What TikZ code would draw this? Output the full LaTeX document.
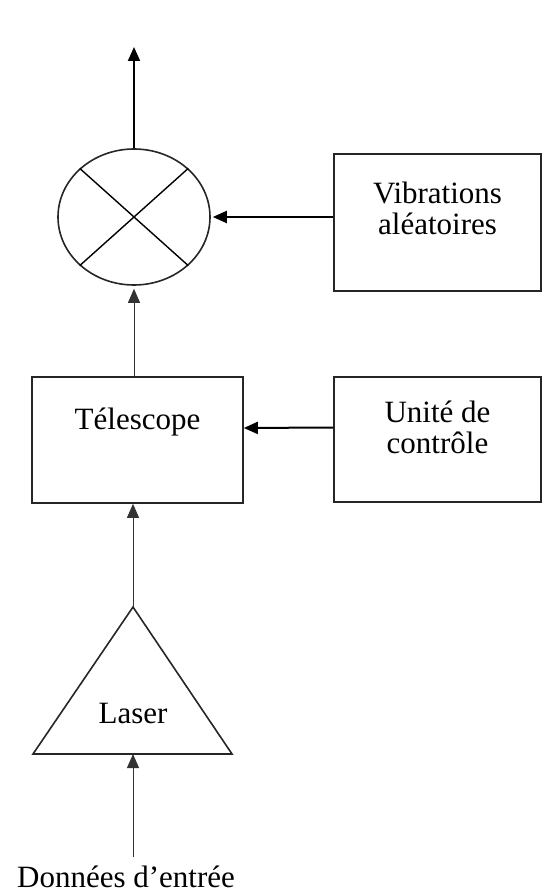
\documentclass[tikz,border=0pt]{standalone}
\usepackage{fontspec}
\setmainfont{Liberation Serif}
\usetikzlibrary{arrows.meta,shapes.geometric}

\begin{document}
\begin{tikzpicture}[
  x=0.5pt, y=-0.5pt,
  font=\fontsize{15.5}{15.5}\selectfont,
  block/.style={draw=black!85, line width=0.8pt, minimum width=103.5pt,
                align=center, inner sep=0pt},
  mixer/.style={draw=black!85, ellipse, line width=0.8pt,
                minimum width=76pt, minimum height=68pt, inner sep=0pt},
  feed/.style={-{Triangle[length=7pt,width=6pt]}, line width=1pt},
  thinfeed/.style={-{Triangle[length=7pt,width=6pt]}, line width=0.5pt, black!80}
]
  \useasboundingbox (0,0) rectangle (543,892);

  % Mixer and output.
  \node[mixer] (mix) at (134,217) {};
  \draw[line width=0.7pt] (mix.north west) -- (mix.south east);
  \draw[line width=0.7pt] (mix.north east) -- (mix.south west);
  \coordinate (out) at (134,47);
  \draw[feed] (mix) -- (out);

  % Random vibrations.
  \node[block, minimum height=68.5pt, text height=25.5pt, text depth=13pt]
    (vib) at (437.5,222.5) {Vibrations\\aléatoires};
  \draw[feed, shorten >=1pt] (vib.west |- mix.east) -- (mix.east);

  % Telescope and control unit.
  \node[block, minimum width=105.5pt, minimum height=63pt,
        text height=10pt, text depth=21pt] (tele) at (137.5,440) {Télescope};
  \draw[thinfeed, shorten >=1.5pt] (tele.north -| mix.south) -- (mix.south);
  \node[block, minimum height=62.5pt, text height=25.5pt, text depth=12pt]
    (ctrl) at (437.5,439.5) {Unité de\\contrôle};
  \draw[feed] ([yshift=6pt]ctrl.west) -- ([yshift=6pt]tele.east);

  % Laser.
  \coordinate (apex) at (133,607);
  \coordinate (baseL) at (33,754);
  \coordinate (baseR) at (232,754);
  \coordinate (base) at (133,754);
  \draw[line width=0.8pt, black!85] (apex) -- (baseL) -- (baseR) -- cycle;
  \node[anchor=base] (laser) at (133,723) {Laser};
  \draw[thinfeed] (apex) -- (apex |- tele.south);

  % Input data.
  \coordinate (in) at (133,857);
  \node[anchor=base] (input) at (126,887) {Données d’entrée};
  \draw[thinfeed] (in) -- (base);
\end{tikzpicture}
\end{document}
